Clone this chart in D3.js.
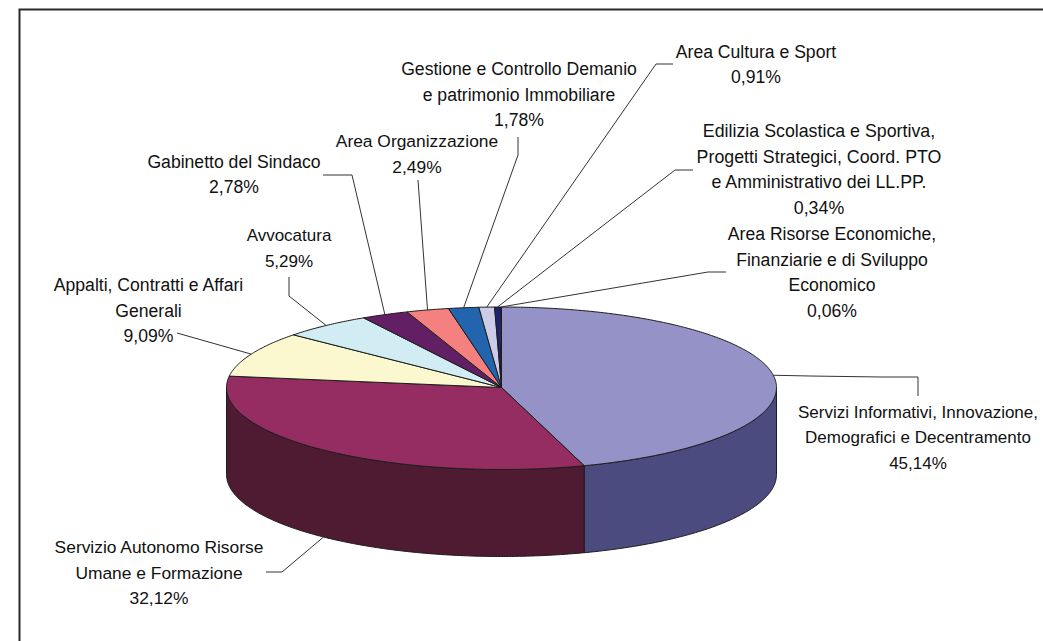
<!DOCTYPE html>
<html><head><meta charset="utf-8">
<script src="https://cdn.jsdelivr.net/npm/d3@7/dist/d3.min.js"></script>
<style>html,body{margin:0;padding:0;background:#fff;overflow:hidden}svg{display:block}</style>
</head><body><svg id="c" width="1043" height="641"></svg>
<script>
const categories = [
  ["Servizi Informativi, Innovazione,","Demografici e Decentramento"],
  ["Servizio Autonomo Risorse","Umane e Formazione"],
  ["Appalti, Contratti e Affari","Generali"],
  ["Avvocatura"],
  ["Gabinetto del Sindaco"],
  ["Area Organizzazione"],
  ["Gestione e Controllo Demanio","e patrimonio Immobiliare"],
  ["Area Cultura e Sport"],
  ["Edilizia Scolastica e Sportiva,","Progetti Strategici, Coord. PTO","e Amministrativo dei LL.PP."],
  ["Area Risorse Economiche,","Finanziarie e di Sviluppo","Economico"]
];
const values = [45.14,32.12,9.09,5.29,2.78,2.49,1.78,0.91,0.34,0.06];
const topColors = ["#9492C6","#952D62","#FBF8CF","#D2ECF4","#631F64","#F48080","#2264AE","#CCCCE8","#1F2272","#F0F0FA"];
const sideColors = ["#4C4B80","#4E1B32","#7D7C67","#69767A","#321032","#7A4040","#113257","#666674","#101139","#78787D"];
// label layout: centre x, first-line centre y, line step, font size; leader bends from label to pie
const labelLayout = [
  {x:918,y:412,step:25.5,size:17,leader:[[918,396],[918,377],[881,377],[810,376]]},
  {x:159,y:547,step:25.5,size:17.4,leader:[[266,572],[282,572]]},
  {x:148.5,y:285,step:25.5,size:17.6,leader:[[177,333]]},
  {x:289,y:235,step:26,size:17,leader:[[289,277],[289,296]]},
  {x:234,y:162,step:25,size:17.6,leader:[[323,175],[352,175]]},
  {x:417,y:141,step:26,size:17.4,leader:[[418,180]]},
  {x:519,y:69,step:25.5,size:17.6,leader:[[518,137],[518,155]]},
  {x:756,y:52,step:25,size:17.6,leader:[[673,64],[656,64]]},
  {x:819,y:131,step:25.5,size:17.8,leader:[[693,170],[675,170]]},
  {x:832,y:234,step:25.5,size:17.6,leader:[[726,272],[708,272]]}
];
const fmt = v => v.toFixed(2).replace(".",",")+"%";

const cx=501.5, cy=387.5, rx=275, ryBack=80.5, ryFront=82, depth=87;
const svg=d3.select("#c");
const project=(a,dy=0)=>{const c=Math.cos(a);return [cx+rx*Math.sin(a), cy-(c>0?ryBack:ryFront)*c+dy];};
const arcs=d3.pie().sort(null).value(d=>d)(values);
const line=d3.line();
const sample=(a0,a1,dy=0)=>{const n=Math.max(2,Math.ceil(Math.abs(a1-a0)/0.01));
  return d3.range(n+1).map(i=>project(a0+(a1-a0)*i/n,dy));};

// frame (top and left edges only)
svg.append("path").attr("d",line([[19.5,641],[19.5,9.5],[1043,9.5]]))
  .attr("fill","none").attr("stroke","#2a2a2a").attr("stroke-width",2);

// side walls: front half only
const lo=Math.PI/2, hi=Math.PI*1.5;
svg.append("g").selectAll("path").data(arcs.filter(d=>d.endAngle>lo&&d.startAngle<hi)).join("path")
  .attr("d",d=>{const a0=Math.max(d.startAngle,lo),a1=Math.min(d.endAngle,hi);
    return line([...sample(a0,a1),...sample(a1,a0,depth)])+"Z";})
  .attr("fill",d=>sideColors[d.index]).attr("stroke","#1c1c1c").attr("stroke-width",1);

// top slices
svg.append("g").selectAll("path").data(arcs).join("path")
  .attr("d",d=>line([[cx,cy],...sample(d.startAngle,d.endAngle)])+"Z")
  .attr("fill",d=>topColors[d.index]).attr("stroke","#1c1c1c").attr("stroke-width",1).attr("stroke-linejoin","round");

// leaders
svg.append("g").selectAll("path").data(arcs).join("path")
  .attr("d",d=>{const mid=(d.startAngle+d.endAngle)/2;
    const onFront=Math.cos(mid)<-0.3;
    return line([...labelLayout[d.index].leader,project(mid,onFront?depth:0)]);})
  .attr("fill","none").attr("stroke","#333").attr("stroke-width",1);

// labels
const lab=svg.append("g").attr("font-family","'Liberation Sans',Arial,sans-serif").attr("fill","#111").attr("text-anchor","middle");
categories.forEach((c,i)=>{
  const L=labelLayout[i];
  [...c,fmt(values[i])].forEach((t,j)=>{
    lab.append("text").attr("x",L.x).attr("y",L.y+j*L.step).attr("dy","0.35em").attr("font-size",L.size).text(t);
  });
});
</script></body></html>
